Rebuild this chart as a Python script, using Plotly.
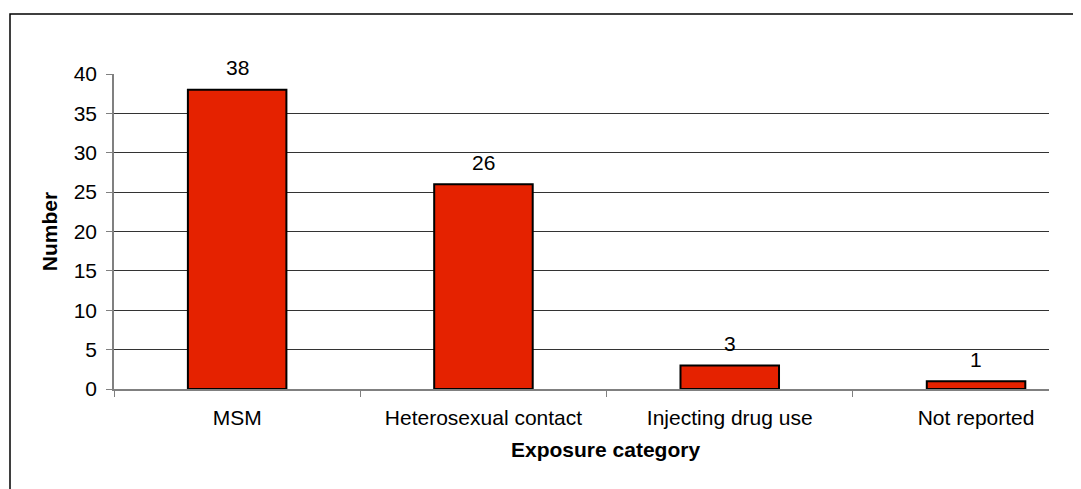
import plotly.graph_objects as go

categories = ["MSM", "Heterosexual contact", "Injecting drug use", "Not reported"]
values = [38, 26, 3, 1]
y_ticks = [0, 5, 10, 15, 20, 25, 30, 35, 40]

# page has an 8px body margin; figure coordinates = screenshot - 8
OFF = 8
W, H = 1081, 489
L, T = 114 - OFF, 74 - OFF
R = W - (1049 - OFF)
B = H - (389 - OFF)
pw, ph = W - L - R, H - T - B

def px_x(x):
    return (x - OFF - L) / pw

def px_y(y):
    return 1 - (y - OFF - T) / ph

font = "Liberation Sans, Arial, sans-serif"
FS = 21

# category slots in the reference are ~246 px wide while the plot area is 935 px
slot_px = 246.3
x_range = [-0.5, -0.5 + pw / slot_px]

fig = go.Figure(go.Bar(
    x=categories,
    y=values,
    width=0.40,
    marker=dict(color="#E52200", line=dict(color="#000000", width=2)),
    cliponaxis=False,
))

annotations = [
    dict(x=c, y=v, xref="x", yref="y", text=str(v), showarrow=False,
         yanchor="middle", yshift=22,
         font=dict(family=font, size=FS, color="#000000"))
    for c, v in zip(categories, values)
]
annotations.append(
    dict(x=px_x(605), y=px_y(449), xref="paper", yref="paper",
         text="<b>Exposure category</b>", showarrow=False,
         xanchor="center", yanchor="middle",
         font=dict(family=font, size=FS, color="#000000"))
)

fig.update_layout(
    width=W, height=H,
    margin=dict(l=L, r=R, t=T, b=B),
    paper_bgcolor="white",
    plot_bgcolor="white",
    showlegend=False,
    font=dict(family=font, size=FS, color="#000000"),
    annotations=annotations,
    shapes=[dict(type="rect", xref="paper", yref="paper",
                 x0=px_x(10), x1=px_x(1095), y0=px_y(505), y1=px_y(14),
                 line=dict(color="#000000", width=1.5), fillcolor="rgba(0,0,0,0)",
                 layer="below")],
)

fig.update_xaxes(
    type="category",
    range=x_range,
    showgrid=False,
    showline=True, linecolor="#808080", linewidth=1.5,
    ticks="outside", tickson="boundaries", ticklen=6, tickcolor="#808080", tickwidth=1,
    tickfont=dict(family=font, size=FS, color="#000000"),
    ticklabelstandoff=9,
)
fig.update_yaxes(
    range=[0, 40],
    tickvals=y_ticks,
    showgrid=True, gridcolor="#333333", gridwidth=1,
    zeroline=False,
    showline=True, linecolor="#808080", linewidth=1.5,
    ticks="outside", ticklen=6, tickcolor="#808080", tickwidth=1,
    tickfont=dict(family=font, size=FS, color="#000000"),
    ticklabelstandoff=5,
    title=dict(text="<b>Number</b>", font=dict(family=font, size=FS), standoff=10),
)

fig.write_html("out.html")
